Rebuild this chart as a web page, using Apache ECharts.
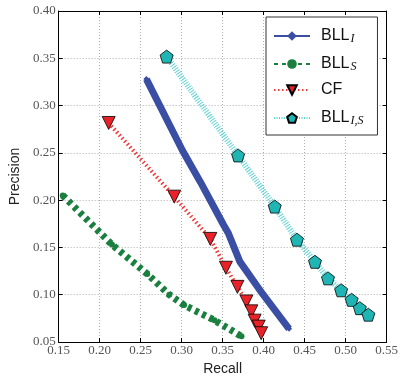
<!DOCTYPE html>
<html>
<head>
<meta charset="utf-8">
<script src="https://cdn.jsdelivr.net/npm/echarts@6/dist/echarts.min.js"></script>
<style>html,body{margin:0;padding:0;background:#fff}#c{width:401px;height:381px}</style>
</head>
<body>
<div id="c"></div>
<script>
var xTicks = [0.15, 0.20, 0.25, 0.30, 0.35, 0.40, 0.45, 0.50, 0.55];
var yTicks = [0.05, 0.10, 0.15, 0.20, 0.25, 0.30, 0.35, 0.40];

var bllIRecall = [0.257, 0.301, 0.323, 0.351, 0.357, 0.371, 0.399, 0.431];
var bllIPrec   = [0.328, 0.2525, 0.219, 0.174, 0.165, 0.135, 0.1005, 0.064];

var bllSRecall = [0.155, 0.215, 0.258, 0.285, 0.303, 0.340, 0.373];
var bllSPrec   = [0.205, 0.153, 0.122, 0.100, 0.089, 0.073, 0.056];

var cfRecall = [0.211, 0.291, 0.335, 0.354, 0.368, 0.379, 0.385, 0.389, 0.394, 0.397];
var cfPrec   = [0.2816, 0.2037, 0.159, 0.1285, 0.1083, 0.0929, 0.0824, 0.0726, 0.0663, 0.0593];

var bllISRecall = [0.2817, 0.3688, 0.4135, 0.4406, 0.4626, 0.4785, 0.4945, 0.5073, 0.5173, 0.5277];
var bllISPrec   = [0.3518, 0.2473, 0.1932, 0.1582, 0.1348, 0.1173, 0.1047, 0.0946, 0.0858, 0.0789];

function zip(a, b) { return a.map(function (v, i) { return [v, b[i]]; }); }

var pentagon = 'path://M0,-1 L0.951,-0.309 L0.588,0.809 L-0.588,0.809 L-0.951,-0.309 Z';
var triDown = 'path://M-1,-0.8 L1,-0.8 L0,1 Z';

var serif = '"Liberation Serif", "DejaVu Serif", serif';
var sans = '"Liberation Sans", Arial, sans-serif';

var chart = echarts.init(document.getElementById('c'));
var baseX = {
  type: 'value', min: 0.15, max: 0.55, interval: 0.05,
  axisLine: { show: true, lineStyle: { color: '#000', width: 1 } },
  axisTick: { show: true, inside: true, length: 4, lineStyle: { color: '#000' } }
};
chart.setOption({
  animation: false,
  grid: { left: 54, right: 13, top: 11, bottom: 36 },
  xAxis: [
    Object.assign({}, baseX, {
      position: 'bottom',
      name: 'Recall', nameLocation: 'middle', nameGap: 20,
      nameTextStyle: { fontFamily: sans, fontSize: 14, color: '#222' },
      axisLabel: { fontFamily: serif, fontSize: 13, color: '#555', margin: 2,
        formatter: function (v) { return v.toFixed(2); } },
      splitLine: { show: true, lineStyle: { color: '#b0b0b0', type: [1, 2], width: 1 } }
    }),
    Object.assign({}, baseX, { position: 'top', axisLabel: { show: false }, splitLine: { show: false } })
  ],
  yAxis: [
    {
      type: 'value', min: 0.05, max: 0.40, interval: 0.05, position: 'left',
      name: 'Precision', nameLocation: 'middle', nameGap: 32,
      nameTextStyle: { fontFamily: sans, fontSize: 14, color: '#222' },
      axisLine: { show: true, lineStyle: { color: '#000' } },
      axisTick: { show: true, inside: true, length: 4, lineStyle: { color: '#000' } },
      axisLabel: { fontFamily: serif, fontSize: 13, color: '#555', margin: 3,
        formatter: function (v) { return v.toFixed(2); } },
      splitLine: { show: true, lineStyle: { color: '#b0b0b0', type: [1, 2], width: 1 } }
    },
    {
      type: 'value', min: 0.05, max: 0.40, interval: 0.05, position: 'right',
      axisLine: { show: true, lineStyle: { color: '#000' } },
      axisTick: { show: true, inside: true, length: 4, lineStyle: { color: '#000' } },
      axisLabel: { show: false }, splitLine: { show: false }
    }
  ],
  legend: {
    orient: 'vertical', left: 266, top: 17,
    backgroundColor: '#fff', borderColor: '#333', borderWidth: 1,
    padding: [8, 14, 8, 7], itemGap: 8, itemWidth: 36, itemHeight: 12,
    data: ['BLL_I', 'BLL_S', 'CF', 'BLL_IS'],
    formatter: function (n) {
      return { 'BLL_I': 'BLL{s|I}', 'BLL_S': 'BLL{s|S}', 'CF': 'CF', 'BLL_IS': 'BLL{s|I,S}' }[n];
    },
    textStyle: {
      fontFamily: sans, fontSize: 16, color: '#111', lineHeight: 18, padding: [0, 0, 0, 6],
      rich: { s: { fontFamily: serif, fontStyle: 'italic', fontSize: 12, color: '#111',
        verticalAlign: 'bottom', padding: [8, 0, 0, 1], lineHeight: 18 } }
    }
  },
  series: [
    {
      name: 'BLL_I', type: 'line', data: zip(bllIRecall, bllIPrec),
      symbol: 'diamond', symbolSize: 6, showSymbol: true,
      itemStyle: { color: '#3a4ea3' },
      lineStyle: { color: '#3a4ea3', width: 7 }, z: 3
    },
    {
      name: 'BLL_S', type: 'line', data: zip(bllSRecall, bllSPrec),
      symbol: 'circle', symbolSize: 6,
      itemStyle: { color: '#1a7f3f' },
      lineStyle: { color: '#1a7f3f', width: 7, type: [4, 4] }, z: 2
    },
    {
      name: 'CF', type: 'line', data: zip(cfRecall, cfPrec),
      symbol: triDown, symbolSize: 13,
      itemStyle: { color: '#e82228', borderColor: '#000', borderWidth: 0.8 },
      lineStyle: { color: '#ee3a3a', width: 4, type: [1.5, 2.5] }, z: 4
    },
    {
      name: 'BLL_IS', type: 'line', data: zip(bllISRecall, bllISPrec),
      symbol: pentagon, symbolSize: 13,
      itemStyle: { color: '#1fb5b5', borderColor: '#000', borderWidth: 0.8 },
      lineStyle: { color: '#5fd3d3', width: 6, type: [1, 1.5] }, z: 4
    }
  ]
});
</script>
</body>
</html>
